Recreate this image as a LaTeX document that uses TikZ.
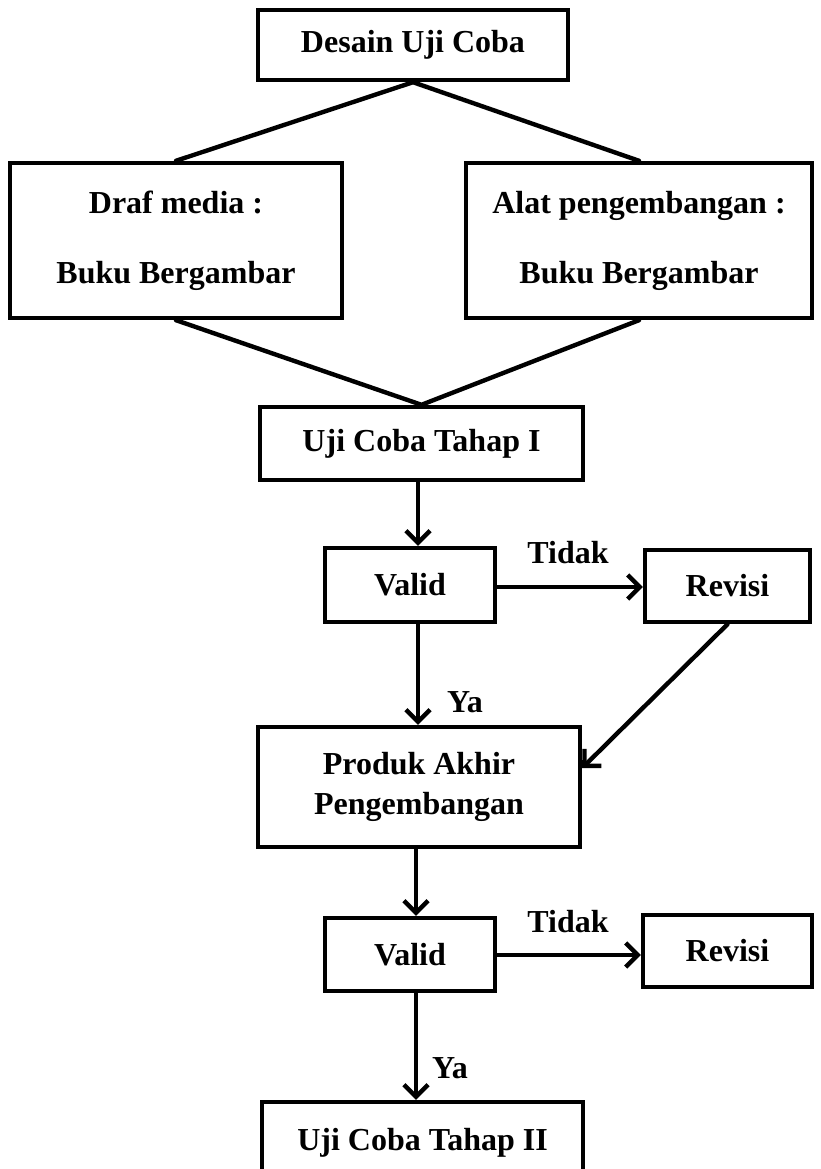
\documentclass[tikz,border=0pt]{standalone}
\usepackage{fontspec}
\setmainfont{Liberation Serif}
\usetikzlibrary{arrows.meta}
\begin{document}
\begin{tikzpicture}[x=1pt,y=-1pt,
  every node/.style={font=\fontsize{32}{37}\selectfont\bfseries, inner sep=0pt},
  box/.style={draw, line width=4.4pt, rectangle, align=center, fill=white},
  link/.style={line width=4.4pt, line cap=round, line join=round},
  arr/.style={link, -{Straight Barb[length=12pt,width=24pt,line width=4.4pt]}},
  lbl/.style={}
]
\useasboundingbox (0,0) rectangle (821,1169);
\clip (0,0) rectangle (821,1169);
\fill[white] (0,0) rectangle (821,1169);

\coordinate (sp) at (418,0);
\coordinate (sp2) at (416,0);

\node[box, minimum width=310pt, minimum height=70pt] (desain) at (413,45) {Desain Uji Coba};
\node[box, minimum width=332pt, minimum height=155pt, font=\fontsize{32}{70}\selectfont\bfseries] (draf) at (176,240.5) {Draf media :\\Buku Bergambar};
\node[box, minimum width=346pt, minimum height=155pt, font=\fontsize{32}{70}\selectfont\bfseries] (alat) at (639,240.5) {Alat pengembangan :\\Buku Bergambar};
\node[box, minimum width=323pt, minimum height=73pt] (uji1) at (421.5,443.5) {Uji Coba Tahap I};
\node[box, minimum width=170pt, minimum height=74pt] (valid1) at (410,585) {Valid};
\node[box, minimum width=165pt, minimum height=72pt] (rev1) at (727.5,586) {Revisi};
\node[box, minimum width=322pt, minimum height=120pt, font=\fontsize{32}{40}\selectfont\bfseries] (produk) at (419,787) {Produk Akhir\\Pengembangan};
\node[box, minimum width=170pt, minimum height=73pt] (valid2) at (410,954.5) {Valid};
\node[box, minimum width=169pt, minimum height=72pt] (rev2) at (727.5,951) {Revisi};
\node[box, minimum width=321pt, minimum height=82pt] (uji2) at (422.5,1143) {Uji Coba Tahap II};

\node[lbl] (tidak1) at (568,553) {Tidak};
\node[lbl] (ya1) at (465,702) {Ya};
\node[lbl] (tidak2) at (568,922) {Tidak};
\node[lbl] (ya2) at (450,1068) {Ya};

\draw[link] (draf.north) -- (desain.south) -- (alat.north);
\draw[link] (draf.south) -- (uji1.north) -- (alat.south);
\draw[arr] (uji1.south -| sp) -- (valid1.north -| sp);
\draw[arr] (valid1.east |- 0,587) -- (rev1.west |- 0,587);
\draw[arr] (valid1.south -| sp) -- (produk.north -| sp);
\draw[arr] (rev1.south) -- ([yshift=19pt]produk.east);
\draw[arr] (produk.south -| sp2) -- (valid2.north -| sp2);
\draw[arr] (valid2.east |- 0,955) -- (rev2.west |- 0,955);
\draw[arr] (valid2.south -| sp2) -- (uji2.north -| sp2);
\end{tikzpicture}
\end{document}
